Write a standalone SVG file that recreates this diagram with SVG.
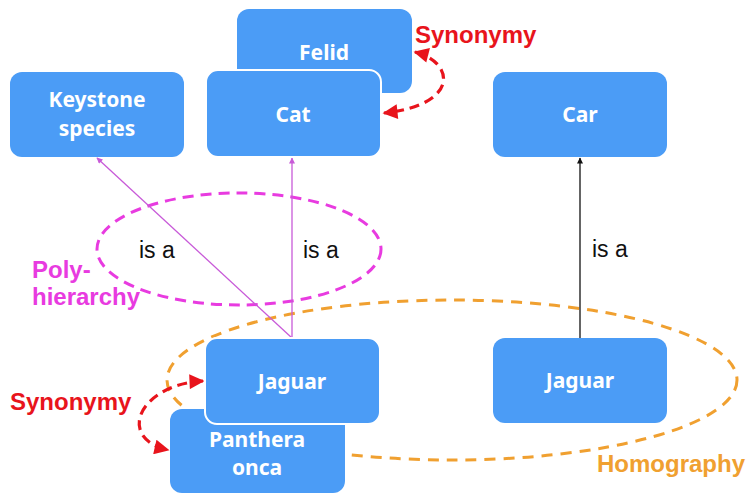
<svg xmlns="http://www.w3.org/2000/svg" width="747" height="494" viewBox="0 0 747 494">
  <defs>
    <marker id="tipMagenta" viewBox="0 0 10 10" refX="9" refY="5" markerWidth="7" markerHeight="6" orient="auto" markerUnits="userSpaceOnUse">
      <path d="M0,0 L10,5 L0,10 z" fill="#c85ad8"/>
    </marker>
    <marker id="tipBlack" viewBox="0 0 10 10" refX="9" refY="5" markerWidth="7" markerHeight="6" orient="auto" markerUnits="userSpaceOnUse">
      <path d="M0,0 L10,5 L0,10 z" fill="#111"/>
    </marker>
    <marker id="tipRed" viewBox="0 0 10 10" refX="9" refY="5" markerWidth="17" markerHeight="15" orient="auto" markerUnits="userSpaceOnUse">
      <path d="M0,0 L10,5 L0,10 z" fill="#e8141c"/>
    </marker>
    <marker id="tipRedStart" viewBox="0 0 10 10" refX="1" refY="5" markerWidth="17" markerHeight="15" orient="auto" markerUnits="userSpaceOnUse">
      <path d="M10,0 L0,5 L10,10 z" fill="#e8141c"/>
    </marker>
  </defs>
  <style>
    .box { fill: #4b9cf6; }
    .front { stroke: #ffffff; stroke-width: 2; }
    .label { font-family: "Noto Sans", "Open Sans", sans-serif; font-weight: bold; font-size: 21px; fill: #ffffff; text-anchor: middle; }
    .isa { font-family: "Liberation Sans", Arial, sans-serif; font-size: 23px; fill: #111111; }
    .tag { font-family: "Liberation Sans", Arial, sans-serif; font-weight: bold; font-size: 24px; }
    .red { fill: #e8141c; }
    .mag { fill: #e83be0; }
    .org { fill: #f0a030; }
    .magLine { stroke: #c85ad8; stroke-width: 1.3; fill: none; }
    .blackLine { stroke: #111111; stroke-width: 1.3; fill: none; }
    .synArrow { stroke: #e8141c; stroke-width: 3.2; fill: none; stroke-dasharray: 10 6; }
  </style>

  <!-- Grouping outlines -->
  <g id="groupings">
    <ellipse cx="239" cy="249" rx="142" ry="56" fill="none" stroke="#e83be0" stroke-width="3" stroke-dasharray="11 7"/>
    <ellipse cx="452" cy="380" rx="285" ry="80" fill="none" stroke="#f0a030" stroke-width="3" stroke-dasharray="11 8"/>
  </g>

  <!-- "is a" relations and synonymy links -->
  <g id="connectors">
    <line class="magLine" x1="292" y1="338" x2="97" y2="158" marker-end="url(#tipMagenta)"/>
    <line class="magLine" x1="292" y1="338" x2="292" y2="158" marker-end="url(#tipMagenta)"/>
    <line class="blackLine" x1="580" y1="338" x2="580" y2="158" marker-end="url(#tipBlack)"/>
    <path class="synArrow" d="M415,52 C455,62 460,105 384,113" marker-start="url(#tipRedStart)" marker-end="url(#tipRed)"/>
    <path class="synArrow" d="M203,381 C140,384 115,438 168,450" marker-start="url(#tipRedStart)" marker-end="url(#tipRed)"/>
  </g>

  <g id="node-felid">
    <rect class="box" x="237" y="9" width="175" height="84" rx="12"/>
    <text class="label" x="324" y="60">Felid</text>
  </g>
  <g id="node-cat">
    <rect class="box front" x="206" y="70" width="175" height="87" rx="12"/>
    <text class="label" x="293" y="122">Cat</text>
  </g>
  <g id="node-keystone">
    <rect class="box" x="10" y="72" width="174" height="85" rx="12"/>
    <text class="label" x="97" y="107">Keystone</text>
    <text class="label" x="97" y="136">species</text>
  </g>
  <g id="node-car">
    <rect class="box" x="493" y="72" width="174" height="85" rx="12"/>
    <text class="label" x="580" y="122">Car</text>
  </g>
  <g id="node-panthera">
    <rect class="box" x="170" y="409" width="175" height="84" rx="12"/>
    <text class="label" x="257" y="447">Panthera</text>
    <text class="label" x="257" y="475">onca</text>
  </g>
  <g id="node-jaguar-animal">
    <rect class="box front" x="205" y="338" width="175" height="86" rx="12"/>
    <text class="label" x="292" y="389">Jaguar</text>
  </g>
  <g id="node-jaguar-car">
    <rect class="box" x="493" y="338" width="174" height="85" rx="12"/>
    <text class="label" x="580" y="388">Jaguar</text>
  </g>

  <g id="labels">
    <text class="isa" x="139" y="258">is a</text>
    <text class="isa" x="303" y="258">is a</text>
    <text class="isa" x="592" y="257">is a</text>
    <text class="tag red" x="415" y="43">Synonymy</text>
    <text class="tag red" x="10" y="410">Synonymy</text>
    <text class="tag mag" x="32" y="278">Poly-</text>
    <text class="tag mag" x="32" y="305">hierarchy</text>
    <text class="tag org" x="597" y="472">Homography</text>
  </g>
</svg>
